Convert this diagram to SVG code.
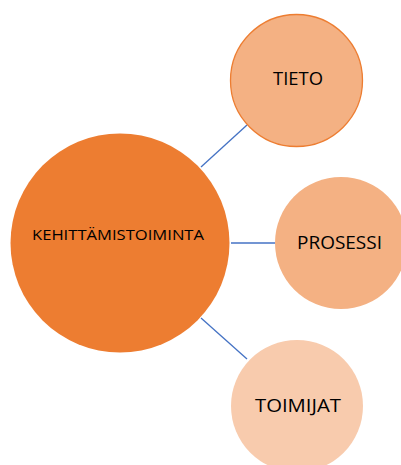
<svg xmlns="http://www.w3.org/2000/svg" width="401" height="465" viewBox="0 0 401 465">
<style>
.lbl{font-family:"Open Sans","Liberation Sans",sans-serif;fill:#000;text-anchor:middle}
.big{font-size:19px}
.small{font-size:14px}
.conn{stroke:#4472C4;stroke-width:1.3;fill:none}
</style>
<rect width="401" height="465" fill="#fff"/>
<g id="connectors">
<line class="conn" x1="201" y1="167" x2="247" y2="125"/>
<line class="conn" x1="231" y1="243" x2="275" y2="243"/>
<line class="conn" x1="201" y1="318" x2="247" y2="359"/>
</g>
<g id="kehittamistoiminta">
<circle cx="120" cy="243" r="109.5" fill="#ED7D31"/>
<text class="lbl small" x="118" y="240" textLength="172" lengthAdjust="spacingAndGlyphs">KEHITTÄMISTOIMINTA</text>
</g>
<g id="tieto">
<circle cx="296.5" cy="80.5" r="66" fill="#F4B183" stroke="#ED7D31" stroke-width="1.3"/>
<text class="lbl big" x="298" y="85" textLength="50" lengthAdjust="spacingAndGlyphs">TIETO</text>
</g>
<g id="prosessi">
<circle cx="341" cy="243" r="66" fill="#F4B183"/>
<text class="lbl big" x="339.5" y="249" textLength="85" lengthAdjust="spacingAndGlyphs">PROSESSI</text>
</g>
<g id="toimijat">
<circle cx="297" cy="406" r="66" fill="#F8CBAD"/>
<text class="lbl big" x="298" y="412" textLength="86" lengthAdjust="spacingAndGlyphs">TOIMIJAT</text>
</g>
</svg>
